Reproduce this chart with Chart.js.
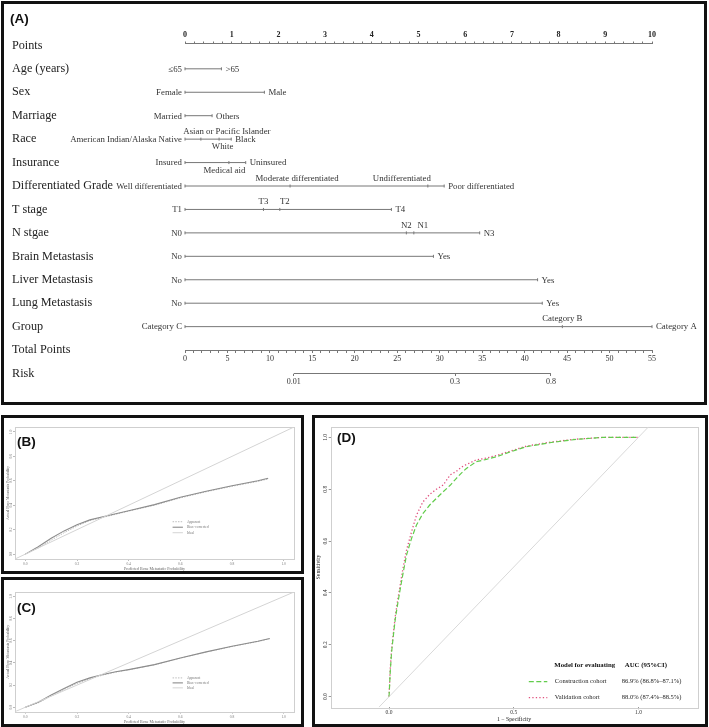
<!DOCTYPE html>
<html>
<head>
<meta charset="utf-8">
<script src="https://cdn.jsdelivr.net/npm/chart.js@4.4.1/dist/chart.umd.min.js"></script>
<style>
    body { margin: 0; background: #fff; }
    #pagina { position: relative; width: 709px; height: 727px; overflow: hidden; background: #fff; }
    .caixa { position: absolute; border: 3px solid #111; box-sizing: border-box; z-index: 2; pointer-events: none; }
    canvas { position: absolute; }
    .rotulo { position: absolute; z-index: 3; font: bold 13.5px "Liberation Sans", Arial, sans-serif; color: #111; line-height: 14px; }
</style>
</head>
<body>
<div id="pagina">
    <canvas id="chartNomograma" width="700" height="398" style="left:4px;top:4px"></canvas>
    <canvas id="chartCalibB" width="297" height="153" style="left:4px;top:418px"></canvas>
    <canvas id="chartCalibC" width="297" height="144" style="left:4px;top:580px"></canvas>
    <canvas id="chartRoc" width="390" height="306" style="left:315px;top:418px"></canvas>

    <div class="caixa" style="left:1px;top:1px;width:706px;height:404px"></div>
    <div class="caixa" style="left:1px;top:415px;width:303px;height:159px"></div>
    <div class="caixa" style="left:1px;top:577px;width:303px;height:150px"></div>
    <div class="caixa" style="left:312px;top:415px;width:396px;height:312px"></div>

    <div class="rotulo" style="left:10px;top:12px">(A)</div>
    <div class="rotulo" style="left:17px;top:435px">(B)</div>
    <div class="rotulo" style="left:17px;top:601px">(C)</div>
    <div class="rotulo" style="left:337px;top:431px">(D)</div>
</div>

<script>
// Fontes
const SERIF = '"Liberation Serif", "Times New Roman", serif';
Chart.defaults.animation = false;
Chart.defaults.font.family = SERIF;

// ---------- Dados do nomograma (A) ----------
const nomesLinhas = ['Points', 'Age (years)', 'Sex', 'Marriage', 'Race', 'Insurance', 'Differentiated Grade',
    'T stage', 'N stgae', 'Brain Metastasis', 'Liver Metastasis', 'Lung Metastasis', 'Group', 'Total Points', 'Risk'];

const idadeNiveis = ['≤65', '>65'];
const idadePontos = [0, 0.78];
const sexoNiveis = ['Female', 'Male'];
const sexoPontos = [0, 1.7];
const casamentoNiveis = ['Married', 'Others'];
const casamentoPontos = [0, 0.58];
const racaNiveis = ['American Indian/Alaska Native', 'Asian or Pacific Islander', 'White', 'Black'];
const racaPontos = [0, 0.34, 0.73, 0.99];
const seguroNiveis = ['Insured', 'Medical aid', 'Uninsured'];
const seguroPontos = [0, 0.94, 1.3];
const grauNiveis = ['Well differentiated', 'Moderate differentiated', 'Undifferentiated', 'Poor differentiated'];
const grauPontos = [0, 2.25, 5.2, 5.55];
const tNiveis = ['T1', 'T3', 'T2', 'T4'];
const tPontos = [0, 1.68, 2.03, 4.42];
const nNiveis = ['N0', 'N2', 'N1', 'N3'];
const nPontos = [0, 4.74, 4.9, 6.31];
const cerebroNiveis = ['No', 'Yes'];
const cerebroPontos = [0, 5.32];
const figadoNiveis = ['No', 'Yes'];
const figadoPontos = [0, 7.55];
const pulmaoNiveis = ['No', 'Yes'];
const pulmaoPontos = [0, 7.65];
const grupoNiveis = ['Category C', 'Category B', 'Category A'];
const grupoPontos = [0, 8.08, 10];

const escalaPontos = [0, 1, 2, 3, 4, 5, 6, 7, 8, 9, 10];
const escalaTotal = [0, 5, 10, 15, 20, 25, 30, 35, 40, 45, 50, 55];
const riscoRotulos = ['0.01', '0.3', '0.8'];
const riscoTotal = [12.8, 31.8, 43.1];

// ---------- Dados de calibração (B e C) ----------
const calPrevistoB = [0, 0.05, 0.1, 0.15, 0.2, 0.25, 0.3, 0.4, 0.5, 0.6, 0.7, 0.8, 0.9, 0.94];
const calAparenteB = [0, 0.05, 0.115, 0.175, 0.23, 0.275, 0.3, 0.352, 0.4, 0.46, 0.51, 0.555, 0.595, 0.615];
const calCorrigidoB = [0, 0.06, 0.13, 0.19, 0.24, 0.28, 0.305, 0.355, 0.405, 0.465, 0.515, 0.56, 0.6, 0.62];

const calPrevistoC = [0, 0.05, 0.1, 0.15, 0.2, 0.25, 0.3, 0.35, 0.4, 0.5, 0.6, 0.7, 0.8, 0.9, 0.946];
const calAparenteC = [0, 0.04, 0.1, 0.16, 0.215, 0.258, 0.29, 0.317, 0.338, 0.383, 0.443, 0.498, 0.548, 0.593, 0.618];
const calCorrigidoC = [0, 0.045, 0.11, 0.17, 0.225, 0.265, 0.295, 0.32, 0.34, 0.385, 0.445, 0.5, 0.55, 0.595, 0.62];

const calIdeal = [-0.04, 1.04];
const calTicks = [0, 0.2, 0.4, 0.6, 0.8, 1.0];
const calLegenda = ['Apparent', 'Bias\u2212corrected', 'Ideal'];

// ---------- Dados da curva ROC (D) ----------
const rocFpr = [0, 0.005, 0.01, 0.016, 0.025, 0.035, 0.043, 0.055, 0.07, 0.09, 0.11, 0.135, 0.163, 0.19,
    0.217, 0.245, 0.27, 0.29, 0.31, 0.35, 0.39, 0.43, 0.49, 0.55, 0.65, 0.75, 0.86, 1.0];
const rocTprConstrucao = [0, 0.1, 0.17, 0.225, 0.3, 0.36, 0.405, 0.47, 0.546, 0.61, 0.662, 0.705, 0.739, 0.765,
    0.79, 0.815, 0.842, 0.862, 0.88, 0.906, 0.915, 0.925, 0.945, 0.964, 0.98, 0.992, 1.0, 1.0];
const rocTprValidacao = [0, 0.11, 0.18, 0.235, 0.31, 0.375, 0.42, 0.49, 0.565, 0.635, 0.7, 0.75, 0.78, 0.8,
    0.816, 0.855, 0.869, 0.885, 0.895, 0.913, 0.92, 0.93, 0.948, 0.966, 0.982, 0.993, 1.0, 1.0];
const rocDiagonal = [-0.041, 1.041];
const rocTicksX = [0, 0.5, 1.0];
const rocTicksY = [0, 0.2, 0.4, 0.6, 0.8, 1.0];
const rocModelos = ['Construction cohort', 'Validation cohort'];
const rocAuc = ['86.9% (86.8%\u201387.1%)', '88.0% (87.4%\u201388.5%)'];

// Variáveis do nomograma, na ordem das linhas 1..12
const variaveis = [
    { niveis: idadeNiveis, pontos: idadePontos },
    { niveis: sexoNiveis, pontos: sexoPontos },
    { niveis: casamentoNiveis, pontos: casamentoPontos },
    { niveis: racaNiveis, pontos: racaPontos },
    { niveis: seguroNiveis, pontos: seguroPontos },
    { niveis: grauNiveis, pontos: grauPontos },
    { niveis: tNiveis, pontos: tPontos },
    { niveis: nNiveis, pontos: nPontos },
    { niveis: cerebroNiveis, pontos: cerebroPontos },
    { niveis: figadoNiveis, pontos: figadoPontos },
    { niveis: pulmaoNiveis, pontos: pulmaoPontos },
    { niveis: grupoNiveis, pontos: grupoPontos }
];

// Posição dos rótulos intermediários (estilo)
const rotuloAbaixo = ['White', 'Medical aid'];
const rotuloDesvio = { 'Asian or Pacific Islander': 26, 'White': 3.5, 'Medical aid': -4.5,
    'Moderate differentiated': 7, 'Undifferentiated': -26, 'T2': 5, 'N1': 9 };

const CINZA = '#777';

function ticksEntre(min, max, passo) {
    const lista = [];
    for (let i = 0; min + i * passo <= max + 1e-9; i++) {
        lista.push({ value: +(min + i * passo).toFixed(4) });
    }
    return lista;
}

// Plugin: rótulos dos níveis do nomograma
const rotulosNiveis = {
    id: 'rotulosNiveis',
    afterDatasetsDraw(chart) {
        const ctx = chart.ctx;
        ctx.save();
        ctx.font = '8.8px ' + SERIF;
        ctx.fillStyle = '#333';
        ctx.textBaseline = 'middle';
        variaveis.forEach((v, i) => {
            const meta = chart.getDatasetMeta(i);
            const ultimo = v.niveis.length - 1;
            meta.data.forEach((pt, j) => {
                const nome = v.niveis[j];
                if (j === 0) {
                    ctx.textAlign = 'right';
                    ctx.fillText(nome, pt.x - 3, pt.y + 0.5);
                } else if (j === ultimo) {
                    ctx.textAlign = 'left';
                    ctx.fillText(nome, pt.x + 4, pt.y + 0.5);
                } else {
                    ctx.textAlign = 'center';
                    const dy = rotuloAbaixo.includes(nome) ? 8 : -7.5;
                    ctx.fillText(nome, pt.x + (rotuloDesvio[nome] || 0), pt.y + dy);
                }
            });
        });
        ctx.restore();
    }
};

// Plugin: moldura cinza da área do gráfico
const moldura = {
    id: 'moldura',
    beforeDatasetsDraw(chart) {
        const a = chart.chartArea;
        const ctx = chart.ctx;
        ctx.save();
        ctx.strokeStyle = '#cfcfcf';
        ctx.lineWidth = 1;
        ctx.strokeRect(Math.round(a.left) + 0.5, Math.round(a.top) + 0.5,
            Math.round(a.right - a.left), Math.round(a.bottom - a.top));
        ctx.restore();
    }
};

// Nomograma (A)
function criarNomograma() {
    const datasets = variaveis.map((v, i) => ({
        data: v.pontos.map(p => ({ x: p, y: i + 1 })),
        xAxisID: 'x',
        yAxisID: 'y',
        borderColor: CINZA,
        borderWidth: 1,
        pointStyle: 'line',
        rotation: 90,
        pointRadius: 1.5,
        pointBorderColor: CINZA,
        pointBorderWidth: 1,
        clip: false
    }));
    // Linha da escala de risco
    datasets.push({
        data: [{ x: riscoTotal[0], y: 14 }, { x: riscoTotal[riscoTotal.length - 1], y: 14 }],
        xAxisID: 'xr',
        yAxisID: 'y',
        borderColor: CINZA,
        borderWidth: 1,
        pointRadius: 0,
        clip: false
    });

    new Chart(document.getElementById('chartNomograma'), {
        type: 'line',
        data: { datasets },
        plugins: [rotulosNiveis],
        options: {
            responsive: false,
            layout: { padding: { left: 8, top: 25.5, right: 52, bottom: 28.5 } },
            plugins: { legend: { display: false }, tooltip: { enabled: false } },
            scales: {
                x: {
                    type: 'linear', position: 'top', min: 0, max: 10,
                    afterBuildTicks: s => { s.ticks = ticksEntre(0, 10, 0.2); },
                    afterFit: s => { s.height = 14; },
                    ticks: {
                        autoSkip: false, maxRotation: 0, padding: 2, color: '#222',
                        font: { size: 8, weight: 'bold' },
                        callback: v => escalaPontos.includes(v) ? String(v) : ''
                    },
                    grid: { drawOnChartArea: false, tickLength: 2, color: CINZA },
                    border: { display: true, color: CINZA }
                },
                xt: {
                    type: 'linear', position: { y: 13 }, min: 0, max: 55,
                    afterBuildTicks: s => { s.ticks = ticksEntre(0, 55, 1); },
                    ticks: {
                        autoSkip: false, maxRotation: 0, padding: 2, color: '#333',
                        font: { size: 8 },
                        callback: v => escalaTotal.includes(v) ? String(v) : ''
                    },
                    grid: { drawOnChartArea: false, tickLength: 2, color: CINZA },
                    border: { display: true, color: CINZA }
                },
                xr: {
                    type: 'linear', position: { y: 14 }, min: 0, max: 55,
                    afterBuildTicks: s => { s.ticks = riscoTotal.map(v => ({ value: v })); },
                    ticks: {
                        autoSkip: false, maxRotation: 0, padding: 2, color: '#333',
                        font: { size: 8 },
                        callback: (v, i) => riscoRotulos[i]
                    },
                    grid: { drawOnChartArea: false, tickLength: 2, color: CINZA },
                    border: { display: false }
                },
                y: {
                    type: 'linear', reverse: true, min: -0.08, max: 14,
                    afterBuildTicks: s => { s.ticks = nomesLinhas.map((n, i) => ({ value: i })); },
                    afterFit: s => { s.width = 173; },
                    ticks: {
                        autoSkip: false, crossAlign: 'far', color: '#222',
                        font: { size: 12.2 },
                        callback: v => nomesLinhas[v]
                    },
                    grid: { display: false },
                    border: { display: false }
                }
            }
        }
    });
}

// Gráficos de calibração (B e C)
function criarCalibracao(id, previsto, aparente, corrigido, alturaEixoX, padTop) {
    const serie = (ys) => previsto.map((x, i) => ({ x, y: ys[i] }));
    const legendaCal = {
        id: 'legendaCal',
        afterDatasetsDraw(chart) {
            const ctx = chart.ctx;
            const sx = chart.scales.x, sy = chart.scales.y;
            const x0 = sx.getPixelForValue(0.57), x1 = sx.getPixelForValue(0.61);
            const ys = [0.265, 0.22, 0.175].map(v => sy.getPixelForValue(v));
            ctx.save();
            ctx.font = '3.6px ' + SERIF;
            ctx.textBaseline = 'middle';
            ctx.fillStyle = '#777';
            [2, 1, 0].forEach((d, k) => {
                const ds = chart.data.datasets[d];
                ctx.strokeStyle = ds.borderColor;
                ctx.lineWidth = ds.borderWidth;
                ctx.setLineDash(ds.borderDash || []);
                ctx.beginPath();
                ctx.moveTo(x0, ys[k]);
                ctx.lineTo(x1, ys[k]);
                ctx.stroke();
                ctx.fillText(calLegenda[k], x1 + 4, ys[k]);
            });
            ctx.restore();
        }
    };

    new Chart(document.getElementById(id), {
        type: 'line',
        data: {
            datasets: [
                { data: calIdeal.map(v => ({ x: v, y: v })), borderColor: '#d4d4d4', borderWidth: 1, pointRadius: 0 },
                { data: serie(corrigido), borderColor: '#8c8c8c', borderWidth: 1.1, pointRadius: 0 },
                { data: serie(aparente), borderColor: '#bdbdbd', borderWidth: 1, borderDash: [1.5, 1.2], pointRadius: 0 }
            ]
        },
        plugins: [moldura, legendaCal],
        options: {
            responsive: false,
            layout: { padding: { left: 2, top: padTop, right: 7, bottom: 0 } },
            plugins: { legend: { display: false }, tooltip: { enabled: false } },
            scales: {
                x: {
                    type: 'linear', min: -0.04, max: 1.04,
                    afterBuildTicks: s => { s.ticks = calTicks.map(v => ({ value: v })); },
                    afterFit: s => { s.height = alturaEixoX; },
                    ticks: { autoSkip: false, maxRotation: 0, padding: 1, color: '#777', font: { size: 3.6 },
                        callback: v => v.toFixed(1) },
                    grid: { drawOnChartArea: false, tickLength: 2, color: '#bbb' },
                    border: { display: false },
                    title: { display: true, text: 'Predicted Bone Metastatic Probability', color: '#666',
                        font: { size: 4 }, padding: 0 }
                },
                y: {
                    type: 'linear', min: -0.04, max: 1.04,
                    afterBuildTicks: s => { s.ticks = calTicks.map(v => ({ value: v })); },
                    afterFit: s => { s.width = 9; },
                    ticks: { autoSkip: false, minRotation: 90, maxRotation: 90, crossAlign: 'center', padding: 0,
                        color: '#777', font: { size: 3.6 }, callback: v => v.toFixed(1) },
                    grid: { drawOnChartArea: false, tickLength: 2, color: '#bbb' },
                    border: { display: false },
                    title: { display: true, text: 'Actual Bone Metastasis Probability', color: '#666',
                        font: { size: 3.8 }, padding: 0 }
                }
            }
        }
    });
}

// Curva ROC (D)
function criarRoc() {
    const legendaRoc = {
        id: 'legendaRoc',
        afterDatasetsDraw(chart) {
            const ctx = chart.ctx;
            const a = chart.chartArea;
            ctx.save();
            ctx.fillStyle = '#111';
            ctx.textBaseline = 'middle';
            ctx.textAlign = 'left';
            ctx.font = 'bold 6.8px ' + SERIF;
            ctx.fillText('Model for evaluating', a.right - 143, a.bottom - 42.5);
            ctx.fillText('AUC (95%CI)', a.right - 72.5, a.bottom - 42.5);
            ctx.font = '6.5px ' + SERIF;
            [1, 2].forEach((d, k) => {
                const ds = chart.data.datasets[d];
                const y = a.bottom - 25.6 + k * 16;
                ctx.strokeStyle = ds.borderColor;
                ctx.lineWidth = ds.borderWidth;
                ctx.setLineDash(ds.borderDash);
                ctx.beginPath();
                ctx.moveTo(a.right - 168.5, y);
                ctx.lineTo(a.right - 150, y);
                ctx.stroke();
                ctx.fillStyle = '#222';
                ctx.fillText(rocModelos[k], a.right - 142.5, y);
                ctx.fillText(rocAuc[k], a.right - 75.5, y);
            });
            ctx.restore();
        }
    };

    new Chart(document.getElementById('chartRoc'), {
        type: 'line',
        data: {
            datasets: [
                { data: rocDiagonal.map(v => ({ x: v, y: v })), borderColor: '#d9d9d9', borderWidth: 1, pointRadius: 0 },
                { data: rocFpr.map((x, i) => ({ x, y: rocTprConstrucao[i] })), borderColor: '#62cc4c',
                  borderWidth: 1.2, borderDash: [5, 2.5], pointRadius: 0 },
                { data: rocFpr.map((x, i) => ({ x, y: rocTprValidacao[i] })), borderColor: '#e0527e',
                  borderWidth: 1.3, borderDash: [1.3, 2.2], pointRadius: 0 }
            ]
        },
        plugins: [moldura, legendaRoc],
        options: {
            responsive: false,
            layout: { padding: { left: 0, top: 8.7, right: 7.7, bottom: 0 } },
            plugins: { legend: { display: false }, tooltip: { enabled: false } },
            scales: {
                x: {
                    type: 'linear', min: -0.234, max: 1.236,
                    afterBuildTicks: s => { s.ticks = rocTicksX.map(v => ({ value: v })); },
                    afterFit: s => { s.height = 16.7; },
                    ticks: { autoSkip: false, maxRotation: 0, padding: 0, color: '#333', font: { size: 5.5 },
                        callback: v => v.toFixed(1) },
                    grid: { drawOnChartArea: false, tickLength: 2, color: '#999' },
                    border: { display: false },
                    title: { display: true, text: '1 \u2212 Specificity', color: '#222', font: { size: 5.8 },
                        padding: { top: 0, bottom: 1.5 } }
                },
                y: {
                    type: 'linear', min: -0.041, max: 1.041,
                    afterBuildTicks: s => { s.ticks = rocTicksY.map(v => ({ value: v })); },
                    afterFit: s => { s.width = 15.7; },
                    ticks: { autoSkip: false, minRotation: 90, maxRotation: 90, crossAlign: 'center', padding: 0,
                        color: '#333', font: { size: 5.5 }, callback: v => v.toFixed(1) },
                    grid: { drawOnChartArea: false, tickLength: 2, color: '#999' },
                    border: { display: false },
                    title: { display: true, text: 'Sensitivity', color: '#222', font: { size: 5.8 }, padding: 0 }
                }
            }
        }
    });
}

criarNomograma();
criarCalibracao('chartCalibB', calPrevistoB, calAparenteB, calCorrigidoB, 12, 9);
criarCalibracao('chartCalibC', calPrevistoC, calAparenteC, calCorrigidoC, 12.3, 12);
criarRoc();
</script>
</body>
</html>
